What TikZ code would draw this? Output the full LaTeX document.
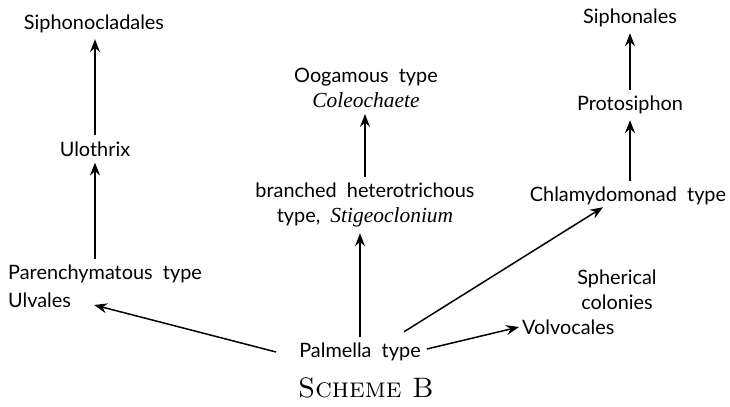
\documentclass[tikz,border=0pt]{standalone}
\usepackage{fontspec}
\setsansfont{Lato}
\newfontfamily\genusfont{Liberation Serif}
\newcommand{\genus}[1]{{\genusfont\itshape\fontsize{12.2}{14.2}\selectfont #1}}
\usepackage{tikz}
\usetikzlibrary{arrows.meta,positioning}

\begin{document}
\begin{tikzpicture}[x=0.2mm, y=-0.2mm]
	\tikzstyle{taxon} = [font=\sffamily\fontsize{11.3}{14.2}\selectfont, align=center]
	\tikzstyle{line} = [draw, -{Stealth[length=2.6mm, width=2mm, inset=0.9mm]}, line width=0.85pt]
	\useasboundingbox (0,0) rectangle (730,406);
	% Place nodes
	\node [taxon] (siphono) at (94,24) {Siphonocladales};
	\node [taxon] (ulothrix) at (95,149) {Ulothrix};
	\node [taxon, anchor=west] (parench) at (2,274) {Parenchymatous\ \ type};
	\node [taxon, anchor=west] (ulvales) at (2,300) {Ulvales};
	\node [taxon] (oogamous) at (366,88) {Oogamous\ \ type\\\genus{Coleochaete}};
	\node [taxon] (branched) at (365,205) {branched\ \ heterotrichous\\type,\ \ \genus{Stigeoclonium}};
	\node [taxon] (palmella) at (360,352) {Palmella\ \ type};
	\node [taxon] (siphonales) at (630,18) {Siphonales};
	\node [taxon] (protosiphon) at (630,105) {Protosiphon};
	\node [taxon] (chlamy) at (628,196) {Chlamydomonad\ \ type};
	\node [taxon] (spherical) at (617,290) {Spherical\\colonies};
	\node [taxon, anchor=west] (volvocales) at (516,327) {Volvocales};
	\node [font=\fontsize{16}{18}\selectfont] (scheme) at (366,388) {\textsc{Scheme B}};
	% Draw edges
	\path [line] (parench.north -| ulothrix) -- (ulothrix);
	\path [line] (ulothrix) -- (ulothrix |- siphono.south);
	\path [line] (palmella) -- (palmella |- branched.south);
	\path [line] (branched) -- (branched |- oogamous.south);
	\path [line] (chlamy.north -| protosiphon) -- (protosiphon);
	\path [line] (protosiphon) -- (protosiphon |- siphonales.south);
	\path [line] ([xshift=-3.4mm]palmella.west) -- ([xshift=3.4mm,yshift=-1mm]ulvales.east);
	\path [line] ([xshift=8.8mm,yshift=1mm]palmella.north) -- ([xshift=-5mm,yshift=0.8mm]chlamy.south);
	\path [line] ([yshift=0.6mm]palmella.east) -- ([xshift=0.6mm]volvocales.west);
\end{tikzpicture}
\end{document}
